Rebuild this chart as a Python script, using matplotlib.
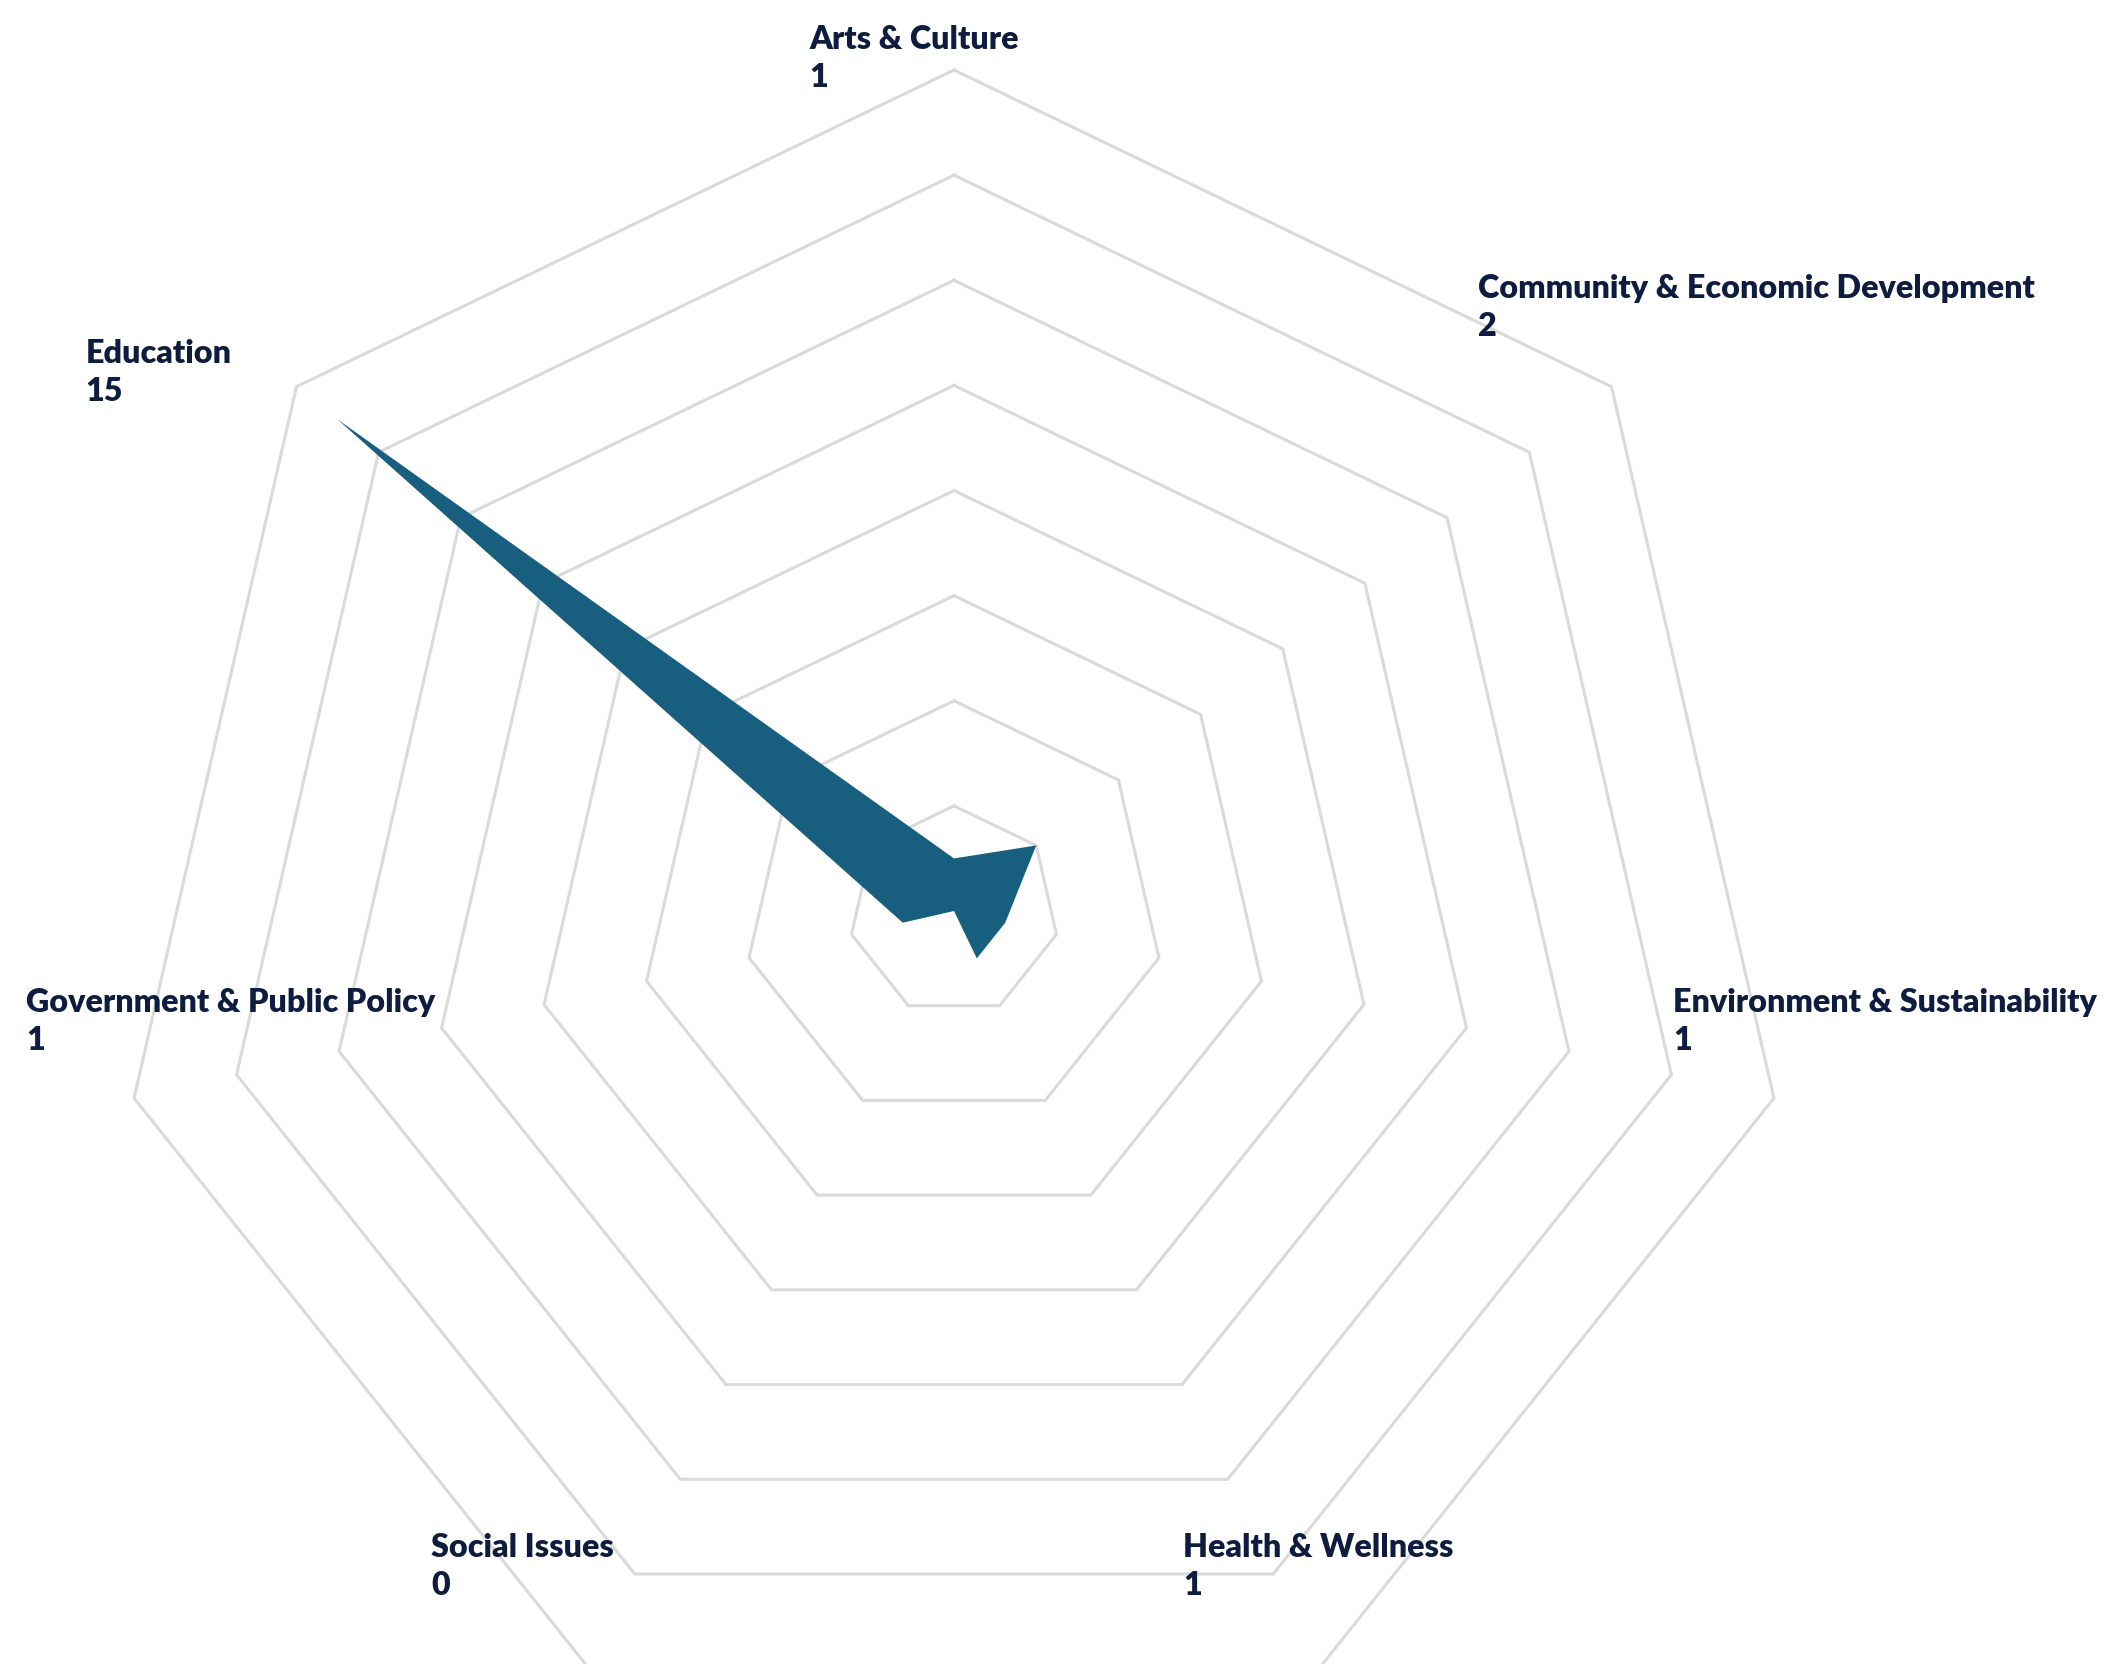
"""
Radar chart: project count by focus area
"""
import numpy as np
import matplotlib
matplotlib.use("Agg")
import matplotlib.pyplot as plt

categories = ["Arts & Culture", "Community & Economic Development",
              "Environment & Sustainability", "Health & Wellness",
              "Social Issues", "Government & Public Policy", "Education"]
values = [1, 2, 1, 1, 0, 1, 15]
ring_levels = [2, 4, 6, 8, 10, 12, 14, 16]

# label offsets from the outer vertex, in pixels (x right, y up)
label_offsets = [(-145, 45), (-134, 113), (-101, 110), (-136, 136),
                 (-158, 136), (-108, 110), (-211, 48)]

W, H = 2111, 1664
CX, CY, R = 954, 911, 841          # centre and outer radius in pixels
RMAX = 17.0                         # axis limit a bit past the outer ring
TEXT = "#0e1c40"
FILL = "#185e7f"
GRID = "#dadada"

plt.rcParams["font.family"] = ["Lato", "DejaVu Sans"]

fig = plt.figure(figsize=(W / 100, H / 100), dpi=100)
rax = R * RMAX / ring_levels[-1]
ax = fig.add_axes([(CX - rax) / W, (H - CY - rax) / H, 2 * rax / W, 2 * rax / H],
                  projection="polar")
ax.set_theta_offset(np.pi / 2)
ax.set_theta_direction(-1)
ax.set_ylim(0, RMAX)
ax.grid(False)
ax.set_xticks([]); ax.set_yticks([])
ax.spines["polar"].set_visible(False)
ax.patch.set_visible(False)

n = len(categories)
ang = np.linspace(0, 2 * np.pi, n, endpoint=False)
ang_c = np.append(ang, ang[0])

for lv in ring_levels:
    ax.plot(ang_c, [lv] * (n + 1), color=GRID, lw=2.2, zorder=1,
            solid_joinstyle="miter", clip_on=False)

vals_c = np.append(values, values[0])
ax.fill(ang_c, vals_c, color=FILL, lw=0, zorder=3)

for a, lab, v, (dx, dy) in zip(ang, categories, values, label_offsets):
    ax.annotate(f"{lab}\n{v}", xy=(a, ring_levels[-1]), xytext=(dx, dy),
                textcoords="offset pixels", ha="left", va="top",
                fontsize=23.2, fontweight="heavy", color=TEXT, linespacing=1.38,
                annotation_clip=False)

fig.savefig("out.png", dpi=100, facecolor="white")
